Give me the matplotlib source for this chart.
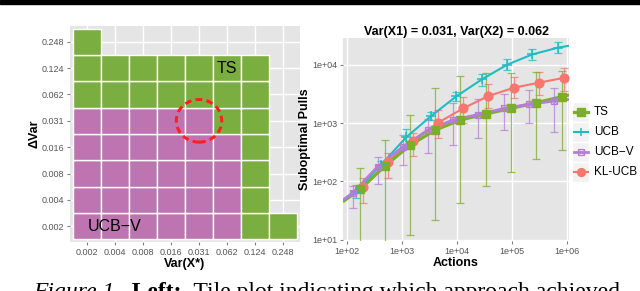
import numpy as np
import matplotlib
matplotlib.use('Agg')
import matplotlib.pyplot as plt
from matplotlib import font_manager
from matplotlib.patches import Rectangle, Ellipse

# ---- left: tile plot, which algorithm wins ----
var_levels = ['0.002', '0.004', '0.008', '0.016', '0.031', '0.062', '0.124', '0.248']
# one row per dVar level (bottom to top), one letter per Var(X*) level
# U = UCB-V, T = TS, - = no tile
winner_rows = [
    'UUUUUUTT',
    'UUUUUUT-',
    'UUUUUUT-',
    'UUUUUUT-',
    'UUUUUTT-',
    'TTTTTTT-',
    'TTTTTTT-',
    'T-------',
]

# ---- right: suboptimal pulls vs actions ----
actions = [175, 497, 1440, 4100, 11670, 33650, 97950, 278600, 811000]
line_from, line_to = 85, 1.1e6
algos = ['KL-UCB', 'TS', 'UCB', 'UCB-V']
pulls = {
    'TS':     [73.5, 184, 422, 762, 1130, 1430, 1790, 2230, 2830],
    'UCB':    [67, 192, 576, 1330, 2870, 5580, 10000, 14960, 19500],
    'UCB-V':  [63.6, 179, 394, 762, 1130, 1403, 1778, 2100, 2390],
    'KL-UCB': [79.6, 218, 488, 1016, 1790, 2910, 4040, 4920, 5980],
}
pulls_hi = {
    'TS':     [168, 504, 1393, 3945, 6280, 7130, 7210, 7500, 7950],
    'UCB':    [87, 227, 793, 1567, 3450, 6930, 12360, 18580, 24200],
    'UCB-V':  [83.8, 259, 625, 1175, 2180, 2590, 3185, 3690, 4040],
    'KL-UCB': [113, 311, 676, 1675, 2830, 4610, 6240, 7590, 8900],
}
pulls_lo = {
    'TS':     [1, 1, 12.1, 22.3, 43.3, 83.8, 145, 243, 346],
    'UCB':    [51.5, 162, 422, 1110, 2390, 4400, 8020, 12030, 15670],
    'UCB-V':  [34.8, 90.6, 192, 304, 422, 556, 762, 993, 713],
    'KL-UCB': [43.4, 113, 273, 550, 993, 1790, 2660, 3030, 3550],
}
pulls_start = {'TS': 45, 'UCB': 47, 'UCB-V': 48, 'KL-UCB': 46}
pulls_end = {'TS': 3030, 'UCB': 21100, 'UCB-V': 2550, 'KL-UCB': 6150}
legend_order = ['TS', 'UCB', 'UCB-V', 'KL-UCB']

# styles
tile_col = {'U': '#BD74B1', 'T': '#7BAE40'}
colors = {'KL-UCB': '#F8766D', 'TS': '#7CAE2A', 'UCB': '#1EBDC4', 'UCB-V': '#B57ED6'}
dodge = {'KL-UCB': 0.051, 'TS': 0.0, 'UCB': -0.073, 'UCB-V': -0.133}
lws = {'KL-UCB': 1.5, 'TS': 2.3, 'UCB': 1.5, 'UCB-V': 2.0}
panel = '#E5E5E5'
tickc = '#555555'

names = {f.name for f in font_manager.fontManager.ttflist}
narrow = 'Liberation Sans Narrow' if 'Liberation Sans Narrow' in names else 'Liberation Sans'
plt.rcParams['font.family'] = ['Liberation Sans', 'DejaVu Sans']

W, H = 640, 291
fig = plt.figure(figsize=(W / 100, H / 100), dpi=100)

def box(x0, y0, x1, y1):
    return [x0 / W, 1 - y1 / H, (x1 - x0) / W, (y1 - y0) / H]

def style_axes(ax):
    ax.set_facecolor(panel)
    for s in ax.spines.values():
        s.set_visible(False)
    ax.grid(True, color='white', lw=1.0)
    ax.set_axisbelow(True)
    ax.tick_params(length=2.5, width=0.8, color='#7F7F7F', labelcolor=tickc,
                   labelsize=6.5, pad=1.5)

# top rule of the page
fig.patches.append(Rectangle((0, 1 - 3.5 / H), 1, 3.5 / H, transform=fig.transFigure,
                             color='black'))

# ---- tile plot ----
ax1 = fig.add_axes(box(70, 26, 300, 242))
style_axes(ax1)
for j, row in enumerate(winner_rows):
    for i, code in enumerate(row):
        if code == '-':
            continue
        ax1.add_patch(Rectangle((i - 0.5, j - 0.5), 1, 1, fc=tile_col[code],
                                ec='white', lw=1.0, zorder=2))
ax1.set_xlim(-0.6, len(var_levels) - 0.4)
ax1.set_ylim(-0.6, len(var_levels) - 0.4)
ax1.set_xticks(range(len(var_levels)))
ax1.set_yticks(range(len(var_levels)))
ax1.set_xticklabels(var_levels)
ax1.set_yticklabels(var_levels)
ax1.text(5, 6, 'TS', fontsize=11.5, ha='center', va='center', zorder=3)
ax1.text(1, 0, 'UCB\u2212V', fontsize=11.5, ha='center', va='center', zorder=3)
ax1.add_patch(Ellipse((4, 4), 1.62, 1.62, fill=False, ec='#FF1F1F', lw=2.2,
                      ls=(0, (2.2, 1.4)), zorder=4))
ax1.set_xlabel('Var(X*)', fontsize=9, fontweight='bold', family=narrow, labelpad=1)
ax1.set_ylabel('\u0394Var', fontsize=9, fontweight='bold', family=narrow, labelpad=1)

# ---- pulls plot ----
ax2 = fig.add_axes(box(343, 38, 569, 241))
style_axes(ax2)
ax2.set_xscale('log')
ax2.set_yscale('log')
for name in algos:
    c = colors[name]
    x = np.array(actions) * 10 ** dodge[name]
    m = np.array(pulls[name])
    hi = np.array(pulls_hi[name])
    lo = np.array(pulls_lo[name])
    ax2.errorbar(x, m, yerr=[m - lo, hi - m], fmt='none', ecolor=c, elinewidth=0.9,
                 capsize=2.6, capthick=0.9, alpha=0.75, zorder=2)
for name in algos:
    x = [line_from] + list(np.array(actions) * 10 ** dodge[name]) + [line_to]
    y = [pulls_start[name]] + pulls[name] + [pulls_end[name]]
    ax2.plot(x, y, color=colors[name], lw=lws[name], zorder=3, solid_capstyle='butt')

def draw_markers(ax, name, x, y, scale=1.0):
    c = colors[name]
    if name == 'TS':
        ax.plot(x, y, 's', color=c, ms=6.3 * scale, zorder=4, ls='none')
    elif name == 'UCB':
        ax.plot(x, y, '+', color=c, ms=7 * scale, mew=1.1, zorder=4, ls='none')
    elif name == 'UCB-V':
        ax.plot(x, y, 's', mfc='none', mec=c, ms=5 * scale, mew=0.9, zorder=4, ls='none')
        ax.plot(x, y, 'x', color=c, ms=3.6 * scale, mew=0.7, zorder=4, ls='none')
    else:
        ax.plot(x, y, 'o', color=c, ms=6.3 * scale, zorder=4, ls='none')

for name in algos:
    draw_markers(ax2, name, np.array(actions) * 10 ** dodge[name], pulls[name])

ax2.set_xlim(10 ** 1.933, 10 ** 6.042)
ax2.set_ylim(10 ** 0.981, 10 ** 4.457)
xt = [1e2, 1e3, 1e4, 1e5, 1e6]
yt = [1e1, 1e2, 1e3, 1e4]
ax2.set_xticks(xt)
ax2.set_xticklabels(['%.0e' % v for v in xt])
ax2.set_yticks(yt)
ax2.set_yticklabels(['%.0e' % v for v in yt])
ax2.minorticks_off()
ax2.set_xlabel('Actions', fontsize=9, fontweight='bold', family=narrow, labelpad=1)
ax2.set_ylabel('Suboptimal Pulls', fontsize=9, fontweight='bold', family=narrow, labelpad=1)
ax2.set_title('Var(X1) = 0.031, Var(X2) = 0.062', fontsize=9, fontweight='bold',
              family=narrow, pad=2)

# ---- legend (ggplot style keys) ----
lax = fig.add_axes(box(570, 100, 640, 184))
lax.set_xlim(570, 640)
lax.set_ylim(184, 100)
lax.axis('off')
for k, name in enumerate(legend_order):
    yc = 112 + 20 * k
    lax.add_patch(Rectangle((572, yc - 10), 17, 20, fc='#F2F2F2', ec='white', lw=1))
    lax.plot([573.5, 587.5], [yc, yc], color=colors[name], lw=lws[name])
    draw_markers(lax, name, [580.5], [yc], scale=0.9)
    lax.text(594, yc, name.replace('-', '\u2212') if name == 'UCB-V' else name,
             fontsize=8.5, va='center', ha='left')

# ---- caption (cut by the bottom edge, as on the page) ----
fig.canvas.draw()
r = fig.canvas.get_renderer()
pieces = [('Figure 1.', 'italic', 'normal'), ('  Left:', 'normal', 'bold'),
          ('  Tile plot indicating which approach achieved', 'normal', 'normal')]
xpos = 33 / W
for txt, st, wt in pieces:
    t = fig.text(xpos, 1 - 282 / H, txt, fontsize=17, family='Liberation Serif',
                 style=st, fontweight=wt, va='top', ha='left')
    bb = t.get_window_extent(renderer=r)
    xpos += bb.width / W

fig.savefig('out.png', dpi=100, facecolor='white')
